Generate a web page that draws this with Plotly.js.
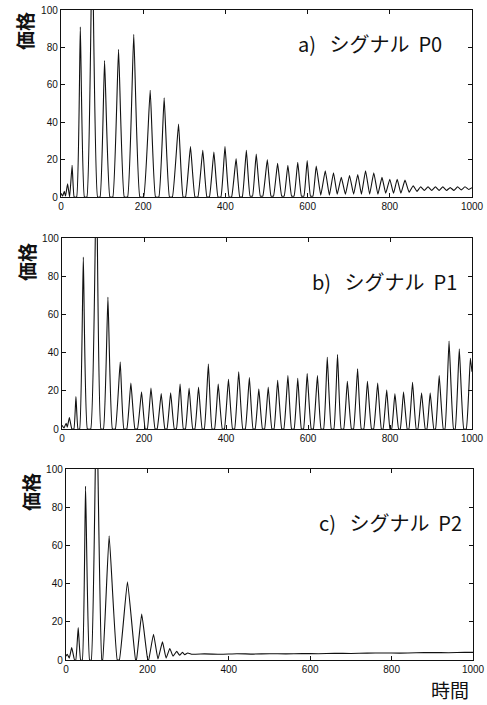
<!DOCTYPE html>
<html>
<head>
<meta charset="utf-8">
<script src="https://cdn.plot.ly/plotly-3.0.1.min.js"></script>
<style>html,body{margin:0;padding:0;background:#fff;}#chart{width:487px;height:705px;}</style>
</head>
<body>
<div id="chart"></div>
<script>
// ---- data ----
const xTicks = [0, 200, 400, 600, 800, 1000];
const yTicks = [0, 20, 40, 60, 80, 100];
const panelLabels = ["a)\u00a0\u00a0\u00a0シグナル\u00a0\u00a0P0", "b)\u00a0\u00a0\u00a0シグナル\u00a0\u00a0P1", "c)\u00a0\u00a0\u00a0シグナル\u00a0\u00a0P2"];
const yTitle = "価格";
const xTitle = "時間";

// Signal P0 (time, value) — peaks and the baseline points around them
const aTime = [
  0,4,8,11,16,21,27,32,38,47,
  57,63,76,89,95,106,119,126,140,154,
  162,177,192,201,217,230,238,251,264,271,
  286,297,303,315,326,333,345,355,361,372,
  382,389,399,409,415,426,435,441,451,460,
  466,475,485,491,502,511,517,527,537,543,
  552,561,567,576,585,591,599,607,613,621,
  632,643,653,663,672,682,692,702,712,722,
  731,741,751,761,771,781,790,800,809,818,
  827,837,847,857,866,875,884,893,902,911,
  920,929,938,947,956,965,974,983,992,1000];
const aValue = [
  2,0.5,3,0.5,7,0,17,0,0,91,
  0,0,140,0,0,73,0,0,79,0,
  0,87,0,0,57,0,0,53,0,0,
  39,0,0,27,0,0,25,0,0,24,
  0,0,27,0,0,20.5,0,0,25,0.5,
  0.5,23,0.5,0.5,20,0.5,0.5,18,0.5,0.5,
  17,0.5,0.5,18.5,0.5,0.5,19.5,0.5,0.5,16.5,
  1,14,1,13,1.5,10.5,1.5,11.5,1.5,12,
  1.5,14,1.5,13,1.5,10.5,2,9.5,2,9.5,
  2,9,2.5,6,3,5.5,3.5,5.5,3.5,5.5,
  3.5,5.5,3.5,5,3.5,5.5,3.8,5.5,4,5];

// Signal P1
const bTime = [
  0,5,10,13,18,24,29,34,39,43,
  52,62,70,84,95,101,112,123,130,142,
  151,158,168,178,184,194,203,208,217,227,
  232,242,251,256,265,274,279,288,296,301,
  310,319,324,333,342,347,357,366,372,381,
  391,396,406,416,421,431,441,447,457,466,
  471,480,489,494,503,512,517,526,536,541,
  551,560,566,575,584,589,598,608,613,623,
  632,638,647,657,663,672,681,687,696,706,
  711,721,730,736,745,755,760,770,779,783,
  792,800,804,812,821,825,833,842,846,855,
  864,868,877,886,890,898,907,911,920,930,
  934,944,955,959,969,980,986,996,1000];
const bValue = [
  2,0.5,3,1,6,0,0,17,0,0,
  90,0,0,140,0,0,69,0,0,35,
  0,0,24,0,0,19.5,0,0,21.5,0,
  0,18.5,0,0,19,0,0,23.5,0,0,
  21.5,0,0,22,0,0,34,0,0,23.5,
  0,0,26,0,0,30,0,0,27,0,
  0,21,0,0,22,0,0,25.5,0,0,
  28,0,0,26.5,0,0,29,0,0,28,
  0,0,37.5,0,0,39,0,0,25,0,
  0,31.5,0,0,25,0,0,24,0,0,
  20.5,0,0,18.5,0,0,19.5,0,0,24.5,
  0,0,19,0,0,19,0,0,28,0,
  0,46,0,0,42,0,0,37,30];

// Signal P2
const cTime = [
  0,3,8,14,21,24,30,36,40,48,
  58,62,75,88,90,106,126,131,151,171,
  173,186,201,203,215,226,237,246,255,263,
  272,279,286,292,299,310,340,380,420,460,
  500,540,580,620,660,700,740,780,820,860,
  900,940,980,1000];
const cValue = [
  2,3,1,6.5,0,0,17,0,0,91,
  0,0,140,0,0,65,0,0,41,0,
  0,24,0,0,13.5,0.5,9.5,1,6,2,
  4.5,2.5,4,2.8,3.7,3,3.2,3,3.3,3.1,
  3.3,3.2,3.4,3.3,3.5,3.4,3.6,3.7,3.6,3.8,
  3.9,3.8,4,4];

// ---- layout (pixel boxes of the three frames) ----
const W = 487, H = 705;
const boxes = [
  {x0: 61, x1: 472, y0: 10,  y1: 197, lab: [296, 44],  yt: [25, 31]},
  {x0: 62, x1: 472, y0: 238, y1: 429, lab: [310, 281], yt: [26, 262]},
  {x0: 66, x1: 473, y0: 469, y1: 660, lab: [317, 522], yt: [30, 492]}
];
const px = p => p / W;
const py = p => 1 - p / H;

const series = [[aTime, aValue], [bTime, bValue], [cTime, cValue]];
const traces = series.map((s, i) => ({
  x: s[0], y: s[1], type: 'scatter', mode: 'lines',
  xaxis: i === 0 ? 'x' : 'x' + (i + 1),
  yaxis: i === 0 ? 'y' : 'y' + (i + 1),
  line: {color: '#111', width: 1.1, shape: 'spline', smoothing: 0.35},
  hoverinfo: 'skip', showlegend: false
}));

const tickFont = {family: 'Liberation Sans, Arial, sans-serif', size: 10, color: '#111'};
const layout = {
  width: W, height: H,
  margin: {l: 0, r: 0, t: 0, b: 0},
  paper_bgcolor: '#fff', plot_bgcolor: '#fff',
  showlegend: false,
  annotations: []
};
const cjk = 'Noto Sans CJK JP, sans-serif';
boxes.forEach((b, i) => {
  const sfx = i === 0 ? '' : String(i + 1);
  layout['xaxis' + sfx] = {
    domain: [px(b.x0), px(b.x1)], anchor: 'y' + sfx, range: [0, 1000],
    tickvals: xTicks, ticktext: xTicks.map(String), ticks: 'inside', ticklen: 4,
    tickcolor: '#111', showline: true, mirror: 'ticks', linecolor: '#111', linewidth: 1.2,
    showgrid: false, zeroline: false, tickfont: tickFont, fixedrange: true,
    ticklabeloverflow: 'allow'
  };
  layout['yaxis' + sfx] = {
    domain: [py(b.y1), py(b.y0)], anchor: 'x' + sfx, range: [0, 100],
    tickvals: yTicks, ticktext: yTicks.map(String), ticks: 'inside', ticklen: 4,
    tickcolor: '#111', showline: true, mirror: 'ticks', linecolor: '#111', linewidth: 1.2,
    showgrid: false, zeroline: false, tickfont: tickFont, fixedrange: true
  };
  layout.annotations.push({
    text: panelLabels[i], xref: 'paper', yref: 'paper', x: px(b.lab[0]), y: py(b.lab[1]),
    xanchor: 'left', yanchor: 'middle', showarrow: false,
    font: {family: cjk, size: 20, color: '#111'}
  });
  layout.annotations.push({
    text: yTitle, xref: 'paper', yref: 'paper', x: px(b.yt[0]), y: py(b.yt[1]),
    xanchor: 'center', yanchor: 'middle', showarrow: false, textangle: -90,
    font: {family: cjk, size: 19, color: '#111', weight: 'bold'}
  });
});
layout.annotations.push({
  text: xTitle, xref: 'paper', yref: 'paper', x: px(450), y: py(689),
  xanchor: 'center', yanchor: 'middle', showarrow: false,
  font: {family: cjk, size: 19, color: '#111'}
});

Plotly.newPlot('chart', traces, layout, {staticPlot: true, displayModeBar: false});
</script>
</body>
</html>
